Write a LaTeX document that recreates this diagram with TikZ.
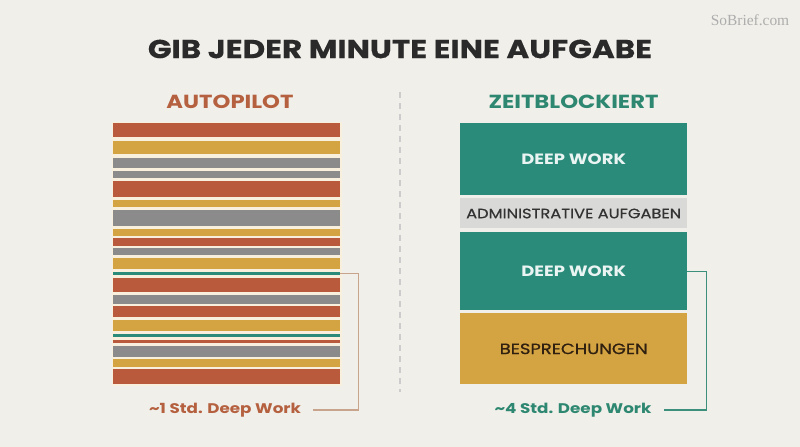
\documentclass[tikz,border=0pt]{standalone}
\usepackage{fontspec}
\setmainfont{Poppins}[FakeStretch=1.2]
\newfontfamily\wmfont{Liberation Serif}
\definecolor{bg}{HTML}{F0EFEA}
\definecolor{cream}{HTML}{F8F0DD}
\definecolor{cr}{HTML}{B85A3B}
\definecolor{cy}{HTML}{D4A443}
\definecolor{cg}{HTML}{8B8B8B}
\definecolor{ct}{HTML}{2A8B7A}
\definecolor{adminbg}{HTML}{D9D9D7}
\definecolor{titlec}{HTML}{2A2A2A}
\definecolor{autoc}{HTML}{B5603F}
\definecolor{zeitc}{HTML}{2E8770}
\definecolor{tanline}{HTML}{C9A48C}
\definecolor{tealline}{HTML}{3C8F7A}
\begin{document}
\begin{tikzpicture}[x=1bp,y=-1bp,
  stripe/.style={rectangle, inner sep=0pt, anchor=north west, minimum width=227bp},
  block/.style={rectangle, inner sep=0pt, anchor=north west, minimum width=227bp, font=\bfseries\fontsize{15}{17}\selectfont},
  head/.style={font=\bfseries\fontsize{19}{22}\selectfont},
  lab/.style={font=\bfseries\fontsize{14}{16}\selectfont},
  conn/.style={line width=1.2bp}]
\fill[bg] (0,0) rectangle (800,447);
\useasboundingbox (0,0) rectangle (800,447);
\node[text=black!32, font=\wmfont\fontsize{15.5}{17}\selectfont] (wm) at (750,20) {SoBrief.com};
\node[font=\bfseries\fontsize{26}{30}\selectfont\addfontfeatures{FakeBold=0.4}, text=titlec] (title) at (400,49) {GIB JEDER MINUTE EINE AUFGABE};
\node[head, text=autoc] (hauto) at (230,102) {AUTOPILOT};
\node[head, text=zeitc] (hzeit) at (573.5,102) {ZEITBLOCKIERT};
% divider
\coordinate (dtop) at (400,92);
\coordinate (dbot) at (400,392);
\draw[black!20, line width=1.3bp, dash pattern=on 6bp off 5bp] (dtop) -- (dbot);
% stripes backdrop
\fill[cream] (111.5,121.8) rectangle (341.5,385.5);
\foreach \i/\t/\b/\c in {1/123.3/137.3/cr, 2/140.7/154.3/cy, 3/157.7/168.3/cg, 4/171.3/178/cg,
  5/181/197.3/cr, 6/200/207.3/cy, 7/210/226/cg, 8/229/235.7/cy, 9/238.3/245.7/cr,
  10/248.3/255/cg, 11/258/268.7/cy, 12/272.3/274.7/ct, 13/277.7/292/cr, 14/295/303.7/cg,
  15/306.3/316.7/cr, 16/319.7/330.7/cy, 17/334/337/ct, 18/339.7/342.7/cr, 19/346/356.7/cg,
  20/359.3/366.7/cy, 21/369.3/384/cr}{
  \pgfmathsetmacro\h{\b-\t}
  \node[stripe, fill=\c, minimum height=\h bp] (s\i) at (113,\t) {};
}
% right blocks
\node[block, fill=ct, text=white!90!ct, minimum height=71.7bp] (dw1) at (460,123.3) {DEEP WORK};
\node[block, fill=adminbg, text=black!80, font=\fontsize{13.6}{16}\selectfont\addfontfeatures{FakeBold=0.6}, minimum height=30bp] (adm) at (460,198.3) {ADMINISTRATIVE AUFGABEN};
\node[block, fill=ct, text=white!90!ct, minimum height=77.7bp] (dw2) at (460,232.3) {DEEP WORK};
\node[block, fill=cy, text=black!75!brown, font=\fontsize{15}{17}\selectfont\addfontfeatures{FakeBold=0.8}, minimum height=70.7bp] (bes) at (460,313.3) {BESPRECHUNGEN};
% labels
\node[lab, text=autoc] (lab1) at (225,410) {\textasciitilde1 Std. Deep Work};
\node[lab, text=zeitc] (lab2) at (573,410) {\textasciitilde4 Std. Deep Work};
% connectors
\coordinate (cL) at (358.5,0);
\coordinate (cR) at (706.5,0);
\draw[conn, tanline] (s12.east) -- (s12.east -| cL) |- ([xshift=9bp]lab1.east);
\draw[conn, tealline] (dw2.east) -- (dw2.east -| cR) |- ([xshift=9bp]lab2.east);
\end{tikzpicture}
\end{document}
